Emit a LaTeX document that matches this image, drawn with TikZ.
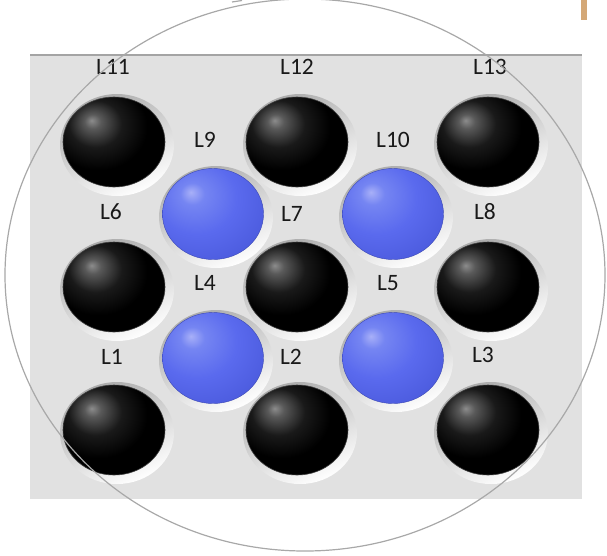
\documentclass[tikz,border=0pt]{standalone}
\usepackage{fontspec}
\setmainfont{Carlito}
\usetikzlibrary{shapes.geometric}
\definecolor{panel}{HTML}{E1E1E1}
\definecolor{panelline}{HTML}{A4A4A4}
\definecolor{ringcol}{HTML}{A8A8A8}
\definecolor{barcol}{HTML}{D4A877}
\definecolor{bhi}{HTML}{A8B0F8}
\definecolor{bmid}{HTML}{7585F2}
\definecolor{bmain}{HTML}{5A6AEE}
\definecolor{bdark}{HTML}{4352D4}
\definecolor{sockdark}{HTML}{ABABAB}
\pgfdeclareradialshading{blkshade}{\pgfpoint{-11bp}{12bp}}{color(0bp)=(black!45);color(4bp)=(black!65);color(13bp)=(black!90);color(24bp)=(black);color(80bp)=(black)}
\pgfdeclareradialshading{blushade}{\pgfpoint{-11bp}{12bp}}{color(0bp)=(bhi);color(6bp)=(bmid);color(20bp)=(bmain);color(45bp)=(bdark);color(80bp)=(bdark)}
\tikzset{
  socket/.style={ellipse, minimum width=114pt, minimum height=102pt, inner sep=0pt,
    top color=sockdark, bottom color=white, shading angle=25},
  blackball/.style={ellipse, minimum width=102pt, minimum height=90pt, inner sep=0pt,
    shading=blkshade, draw=black!75, line width=0.6pt},
  blueball/.style={ellipse, minimum width=101pt, minimum height=91pt, inner sep=0pt,
    shading=blushade, draw=bdark!85!black, line width=0.4pt},
  lab/.style={font=\fontsize{23.5}{24}\selectfont, text=black!90, inner sep=0pt}
}
\begin{document}
\begin{tikzpicture}[x=1pt,y=-1pt]
\useasboundingbox (0,0) rectangle (607,555);
% panel
\fill[panel] (30,55) rectangle (582,499);
\draw[panelline, line width=1.4pt] (30,55) -- (582,55);
% orange bar
\fill[barcol] (581,0) rectangle (587,20);
% sockets and balls
\foreach \n/\x/\y in {b11/114/142, b12/297/142, b13/488/142,
                       b6/114/287, b7/297/287, b8/488/287,
                       b1/114/430, b2/297/430, b3/488/430} {
  \node[socket] (s\n) at (\x+3,\y+3) {};
  \node[blackball] (\n) at (\x,\y) {};
}
\foreach \n/\x/\y in {b9/213/214, b10/393/214, b4/213/358, b5/393/358} {
  \node[socket] (s\n) at (\x+3,\y+3) {};
  \node[blueball] (\n) at (\x,\y) {};
}
% labels
\node[lab] (l11) at (113,67) {L11};
\node[lab] (l12) at (297,67) {L12};
\node[lab] (l13) at (490,67) {L13};
\node[lab] (l9) at (205,140) {L9};
\node[lab] (l10) at (393,140) {L10};
\node[lab] (l6) at (111,212) {L6};
\node[lab] (l7) at (292,214) {L7};
\node[lab] (l8) at (485,212) {L8};
\node[lab] (l4) at (205,283) {L4};
\node[lab] (l5) at (388,283) {L5};
\node[lab] (l1) at (112,357) {L1};
\node[lab] (l2) at (291,357) {L2};
\node[lab] (l3) at (483,355) {L3};
% big ellipse
\draw[ringcol, line width=1.2pt] (305,275) ellipse [x radius=300pt, y radius=276pt];
\draw[ringcol, line width=1.2pt] (232,2) -- (242,0.5);
\end{tikzpicture}
\end{document}
